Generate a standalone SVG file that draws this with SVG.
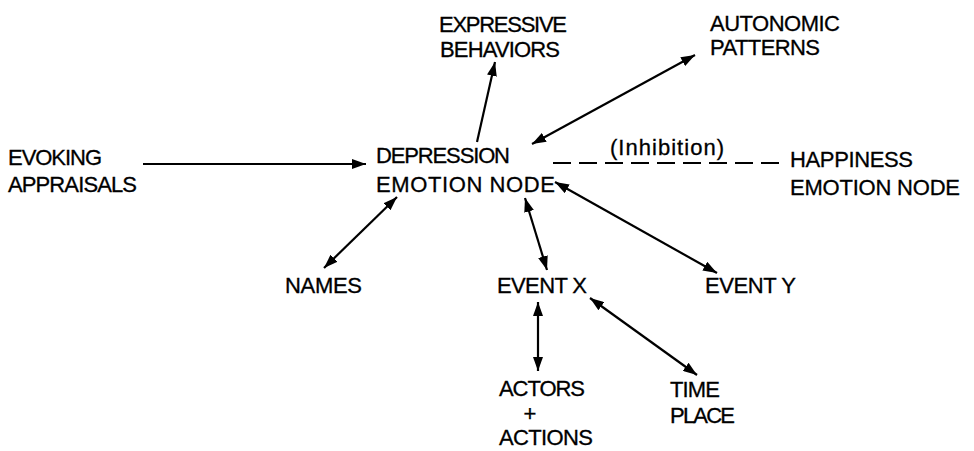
<svg xmlns="http://www.w3.org/2000/svg" width="974" height="451" viewBox="0 0 974 451">
<style>
text{font-family:"Liberation Sans",Arial,sans-serif;font-size:22px;fill:#000;stroke:#000;stroke-width:0.3}
.c line{stroke:#000;stroke-width:2.2;fill:none}
.d{stroke-dasharray:18 8}
</style>
<defs>
<marker id="ah" markerUnits="userSpaceOnUse" markerWidth="14" markerHeight="10" refX="14" refY="5" orient="auto-start-reverse" viewBox="0 0 14 10"><path d="M0,0 L14,5 L0,10 z" fill="#000"/></marker>
</defs>
<rect width="974" height="451" fill="#fff"/>
<g class="c" id="connectors">
<line x1="143" y1="164" x2="366" y2="164" marker-end="url(#ah)"/>
<line x1="477" y1="142" x2="495" y2="62" marker-end="url(#ah)"/>
<line x1="532" y1="144" x2="695" y2="55" marker-start="url(#ah)" marker-end="url(#ah)"/>
<line class="d" x1="553" y1="163" x2="782" y2="163"/>
<line x1="397" y1="197" x2="324" y2="268" marker-start="url(#ah)" marker-end="url(#ah)"/>
<line x1="525" y1="198" x2="547" y2="270" marker-start="url(#ah)" marker-end="url(#ah)"/>
<line x1="555" y1="182" x2="717" y2="273" marker-start="url(#ah)" marker-end="url(#ah)"/>
<line x1="538" y1="302" x2="538" y2="371" marker-start="url(#ah)" marker-end="url(#ah)"/>
<line x1="590" y1="298" x2="697" y2="375" marker-start="url(#ah)" marker-end="url(#ah)"/>
</g>
<g id="expressive"><text x="439" y="32" textLength="128">EXPRESSIVE</text><text x="440" y="57" textLength="120">BEHAVIORS</text></g>
<g id="autonomic"><text x="710" y="31" textLength="130">AUTONOMIC</text><text x="710" y="55" textLength="110">PATTERNS</text></g>
<g id="evoking"><text x="8" y="165" textLength="94">EVOKING</text><text x="8" y="192" textLength="129">APPRAISALS</text></g>
<g id="depression"><text x="376" y="163" textLength="134">DEPRESSION</text><text x="376" y="192" textLength="179">EMOTION NODE</text></g>
<g id="inhibition"><text x="610" y="155" textLength="114">(Inhibition)</text></g>
<g id="happiness"><text x="790" y="167" textLength="123">HAPPINESS</text><text x="790" y="195" textLength="170">EMOTION NODE</text></g>
<g id="names"><text x="285" y="293" textLength="77">NAMES</text></g>
<g id="eventx"><text x="497" y="293" textLength="90">EVENT X</text></g>
<g id="eventy"><text x="705" y="293" textLength="91">EVENT Y</text></g>
<g id="actors"><text x="499" y="396" textLength="86">ACTORS</text><text x="530" y="421" text-anchor="middle">+</text><text x="499" y="445" textLength="94">ACTIONS</text></g>
<g id="timeplace"><text x="670" y="397" textLength="50">TIME</text><text x="670" y="423" textLength="65">PLACE</text></g>
</svg>
